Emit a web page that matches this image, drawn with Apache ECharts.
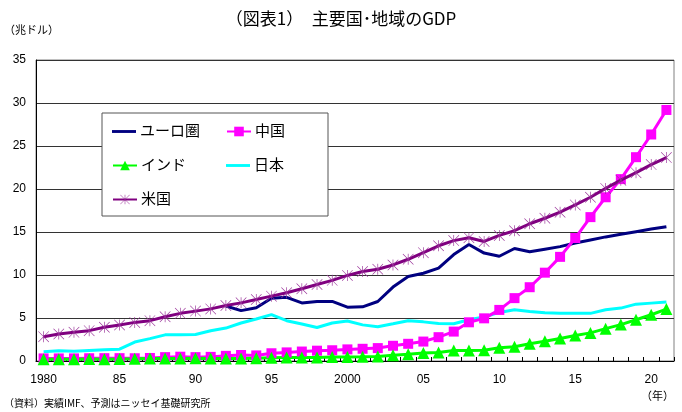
<!DOCTYPE html>
<html><head><meta charset="utf-8">
<script src="https://cdn.jsdelivr.net/npm/echarts@6/dist/echarts.min.js"></script>
<style>html,body{margin:0;padding:0;background:#fff}#c{width:682px;height:412px}</style>
</head><body><div id="c"></div>
<script>
const years = [];
for (let y = 1980; y <= 2021; y++) years.push(String(y));
const tickLabels = {1980:'1980',1985:'85',1990:'90',1995:'95',2000:'2000',2005:'05',2010:'10',2015:'15',2020:'20'};

const euro = [null,null,null,null,null,null,null,null,null,null,null,null,
  6.4,5.86,6.2,7.3,7.4,6.75,6.93,6.93,
  6.26,6.3,6.92,8.6,9.82,10.2,10.8,12.38,13.55,12.55,
  12.18,13.08,12.7,13.0,13.3,13.72,14.08,14.43,14.74,15.04,15.34,15.62];
const china = [0.3,0.3,0.3,0.32,0.33,0.33,0.32,0.35,0.45,0.5,
  0.45,0.48,0.6,0.7,0.65,0.9,1.0,1.1,1.2,1.25,
  1.35,1.42,1.5,1.77,2.0,2.26,2.77,3.42,4.5,4.96,
  5.94,7.31,8.58,10.27,12.11,14.3,16.73,19.04,21.15,23.7,26.34,29.19];
const india = [0.19,0.2,0.2,0.22,0.21,0.23,0.25,0.28,0.3,0.3,
  0.33,0.28,0.29,0.29,0.33,0.37,0.4,0.42,0.42,0.46,
  0.47,0.49,0.52,0.66,0.78,0.93,1.0,1.23,1.23,1.25,
  1.55,1.65,2.0,2.3,2.61,2.96,3.27,3.76,4.23,4.8,5.38,6.04];
const japan = [1.08,1.18,1.12,1.22,1.3,1.38,2.2,2.6,3.04,3.04,
  3.08,3.52,3.83,4.42,4.89,5.39,4.69,4.3,3.9,4.42,
  4.65,4.2,3.98,4.33,4.69,4.55,4.36,4.34,4.8,5.11,
  5.65,5.95,5.76,5.6,5.56,5.54,5.54,5.96,6.15,6.61,6.73,6.85];
const usa = [2.83,3.14,3.33,3.53,3.92,4.19,4.49,4.69,5.15,5.54,
  5.8,6.06,6.45,6.76,7.15,7.54,7.93,8.4,8.9,9.38,
  9.95,10.4,10.67,11.17,11.83,12.6,13.4,14.0,14.34,13.9,
  14.6,15.15,15.96,16.6,17.3,18.15,19.04,20.07,21.03,21.9,22.84,23.65];

const FONT = "'Liberation Sans','Noto Sans CJK JP',sans-serif";
const STAR = 'path://M47,0L53,0L53,100L47,100Z M4,0L100,96L96,100L0,4Z M96,0L100,4L4,100L0,96Z';
const LINEICON = 'path://M0,0L100,0L100,12L0,12Z';

const chart = echarts.init(document.getElementById('c'), null, {renderer:'canvas'});

function lg(item, left, top) {
  return {data:[item], left:left, top:top, padding:0, itemWidth:24, itemHeight:12, itemGap:0,
    textStyle:{fontFamily:FONT, fontSize:15, color:'#000', padding:[0,0,0,-1]}, z:6, selectedMode:false};
}

chart.setOption({
  animation:false,
  textStyle:{fontFamily:FONT},
  grid:{left:36, right:8, top:60, bottom:51, show:true, borderColor:'#808080', borderWidth:1},
  graphic:[
    {type:'text', left:'center', top:10, style:{text:'（図表1）　主要国･地域のGDP', font:"17px 'Noto Sans CJK JP'", fill:'#000'}},
    {type:'text', left:4, top:24, style:{text:'（兆ドル）', font:"11px 'Noto Sans CJK JP'", fill:'#000'}},
    {type:'text', right:8, top:390, style:{text:'（年）', font:"11px 'Noto Sans CJK JP'", fill:'#000'}},
    {type:'text', left:4, top:398, style:{text:'（資料）実績IMF、予測はニッセイ基礎研究所', font:"10px 'Noto Sans CJK JP'", fill:'#000'}},
    {type:'rect', shape:{x:102, y:113, width:226, height:103}, style:{fill:'#fff', stroke:'#555', lineWidth:1}, z:5}
  ],
  legend:[
    lg({name:'ユーロ圏', icon:LINEICON, itemStyle:{color:'#000080'}}, 112, 124),
    lg('中国', 226, 124),
    lg('インド', 112, 158),
    lg({name:'日本', icon:LINEICON, itemStyle:{color:'#00ffff'}}, 226, 158),
    lg('米国', 112, 192)
  ],
  xAxis:{type:'category', data:years, boundaryGap:true,
    axisLine:{lineStyle:{color:'#000', width:1}},
    axisTick:{show:true, inside:true, length:4, interval:0, lineStyle:{color:'#000'}},
    axisLabel:{interval:0, margin:13, fontSize:12, color:'#000', fontFamily:FONT,
      formatter:function(v){ return tickLabels[v] || ''; }},
    splitLine:{show:false}},
  yAxis:{type:'value', min:0, max:35, interval:5,
    axisLine:{show:true, lineStyle:{color:'#000'}},
    axisTick:{show:false},
    axisLabel:{fontSize:12, color:'#000', margin:10, fontFamily:FONT},
    splitLine:{lineStyle:{color:'#333', width:1}}},
  series:[
    {name:'ユーロ圏', type:'line', data:euro, showSymbol:false, symbol:'none', connectNulls:false,
      lineStyle:{color:'#000080', width:3}, itemStyle:{color:'#000080'}, z:3},
    {name:'中国', type:'line', data:china, symbol:'rect', symbolSize:10,
      lineStyle:{color:'#ff00ff', width:3}, itemStyle:{color:'#ff00ff'}, z:4},
    {name:'インド', type:'line', data:india, symbol:'triangle', symbolSize:12,
      lineStyle:{color:'#00ff00', width:3}, itemStyle:{color:'#00ff00'}, z:4},
    {name:'日本', type:'line', data:japan, symbol:'none',
      lineStyle:{color:'#00ffff', width:3}, itemStyle:{color:'#00ffff'}, z:3},
    {name:'米国', type:'line', data:usa, symbol:STAR, symbolSize:11,
      lineStyle:{color:'#800080', width:3}, itemStyle:{color:'#993399'}, z:5}
  ]
});
</script></body></html>
